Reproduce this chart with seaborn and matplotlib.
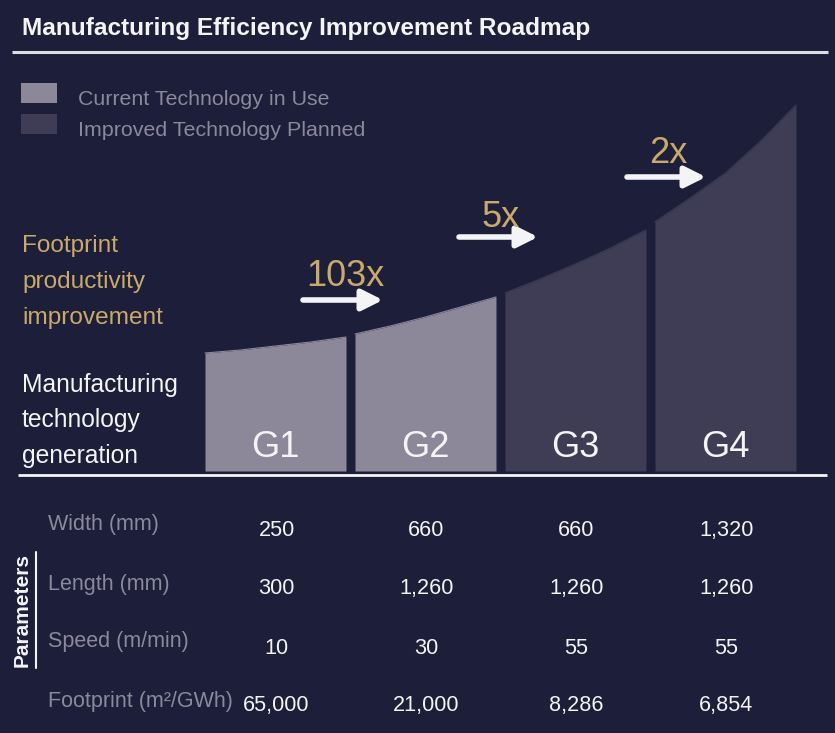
import numpy as np
import matplotlib
matplotlib.use("Agg")
import matplotlib.pyplot as plt
import seaborn as sns
from matplotlib import font_manager

# ---- data ----
generations = ["G1", "G2", "G3", "G4"]
status = ["current", "current", "planned", "planned"]
# top edge of each bar (px above the baseline), read left -> right
top_heights = [
    [118, 121, 125, 129, 134],
    [137, 145, 154, 164, 174],
    [178, 192, 207, 223, 241],
    [249, 273, 298, 330, 366],
]
multipliers = ["103x", "5x", "2x"]
param_names = ["Width (mm)", "Length (mm)", "Speed (m/min)", "Footprint (m²/GWh)"]
param_values = [
    ["250", "660", "660", "1,320"],
    ["300", "1,260", "1,260", "1,260"],
    ["10", "30", "55", "55"],
    ["65,000", "21,000", "8,286", "6,854"],
]
legend_labels = ["Current Technology in Use", "Improved Technology Planned"]

# ---- style ----
BG = "#1d1e3a"
CUR = "#8c8899"
PLAN = "#3e3d55"
GOLD = "#c9aa6a"
GREY = "#8b899b"
WHITE = "#f4f4f6"
colors = {"current": CUR, "planned": PLAN}

sns.set_theme(style="white")
installed = {f.name for f in font_manager.fontManager.ttflist}
fam = ["Liberation Sans Narrow", "Liberation Sans", "DejaVu Sans"]
fam = [f for f in fam if f in installed] or ["DejaVu Sans"]
plt.rcParams["font.family"] = fam

fig = plt.figure(figsize=(8.35, 7.33), dpi=100, facecolor=BG)
ax = fig.add_axes([0, 0, 1, 1])
ax.set_facecolor(BG)
ax.set_xlim(0, 835)
ax.set_ylim(733, 0)
ax.axis("off")

# title + rule
ax.text(22, 35, "Manufacturing Efficiency Improvement Roadmap", color=WHITE,
        fontsize=17.6, fontweight="bold", ha="left", va="baseline")
ax.plot([12, 828], [52, 52], color="#dcdce4", lw=2.2, solid_capstyle="butt")

# legend
for k, (lab, col) in enumerate(zip(legend_labels, [CUR, PLAN])):
    y0 = 83 + 31 * k
    ax.fill_between([21, 57], y0, y0 + 20, color=col, lw=0)
    ax.text(78, 105 + 31 * k, lab, color=GREY, fontsize=15.4, ha="left", va="baseline")

# bars with curved tops
BASE = 471
x_first, bar_w, step = 205, 141, 150
centers = []
for i, (g, st, h) in enumerate(zip(generations, status, top_heights)):
    x0 = x_first + step * i
    xs = np.linspace(x0, x0 + bar_w, len(h))
    tops = BASE - np.array(h)
    ax.fill_between(xs, BASE, tops, color=colors[st], lw=0)
    sns.lineplot(x=xs, y=tops, color=colors[st], lw=0.8, ax=ax, sort=False)
    c = x0 + bar_w / 2
    centers.append(c)
    ax.text(c, 457, g, color=WHITE, fontsize=26, ha="center", va="baseline")

# baseline rule
ax.plot([18, 827], [475, 475], color=WHITE, lw=2, solid_capstyle="butt")

# improvement arrows
arrow_pos = [(303, 383, 300, 286), (459, 538, 237, 227), (627, 706, 177, 163)]
for m, (xa, xb, ya, yt) in zip(multipliers, arrow_pos):
    ax.annotate("", xy=(xb, ya), xytext=(xa, ya),
                arrowprops=dict(arrowstyle="-|>,head_length=0.7,head_width=0.35",
                                color=WHITE, lw=4, shrinkA=0, shrinkB=0,
                                mutation_scale=18))
    ax.text((xa + xb) / 2 + 2, yt, m, color=GOLD, fontsize=26, ha="center", va="baseline")

# left labels
for j, line in enumerate(["Footprint", "productivity", "improvement"]):
    ax.text(22, 252 + 36 * j, line, color=GOLD, fontsize=17.6, ha="left", va="baseline")
for j, line in enumerate(["Manufacturing", "technology", "generation"]):
    ax.text(22, 392 + 35.5 * j, line, color=WHITE, fontsize=17.7, ha="left", va="baseline")

# parameter table
label_base = [530, 590, 647, 707]
value_base = [536, 594, 654, 711]
for r, name in enumerate(param_names):
    ax.text(48, label_base[r], name, color=GREY, fontsize=15.5, ha="left", va="baseline")
    for c, v in zip(centers, param_values[r]):
        ax.text(c + 1, value_base[r], v, color=WHITE, fontsize=15.6, ha="center", va="baseline")

ax.text(22, 610, "Parameters", color=WHITE, fontsize=15, fontweight="bold",
        rotation=90, ha="center", va="center")
ax.plot([36, 36], [552, 668], color=WHITE, lw=1.5)

fig.savefig("out.png", dpi=100, facecolor=BG)
